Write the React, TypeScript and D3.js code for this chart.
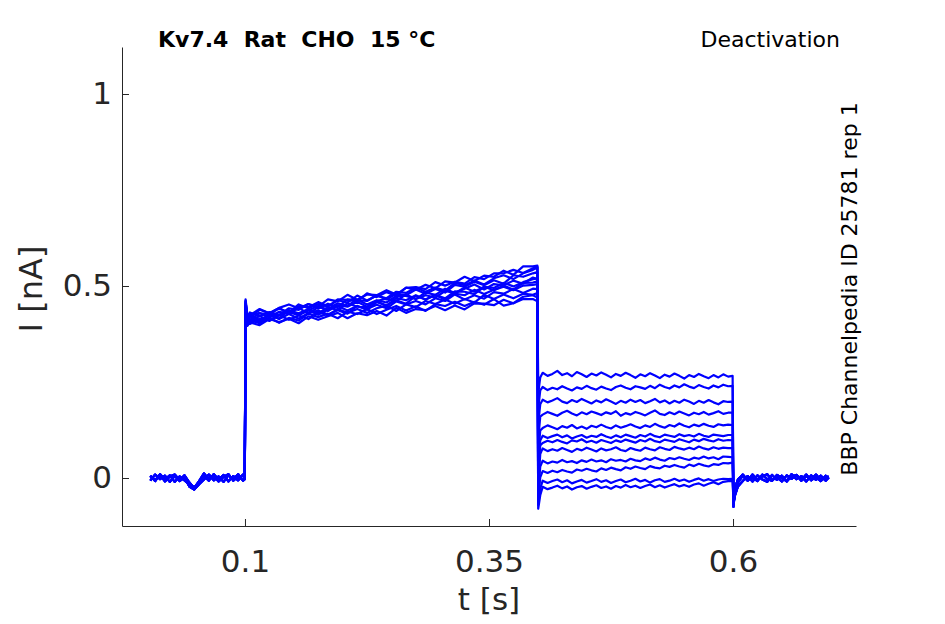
import * as d3 from 'd3';
import React, { useEffect, useRef } from 'react';

const width = 945;
const height = 624;
const margin = { top: 47, right: 89, bottom: 98, left: 122 };

// time grids [s] of each protocol phase
const preT = [0.003, 0.008, 0.013, 0.018, 0.023, 0.028, 0.033, 0.038, 0.043, 0.048, 0.053, 0.058, 0.063, 0.068, 0.073, 0.078, 0.083, 0.088, 0.093, 0.098, 0.0998];
const actT = [0.1006, 0.1025, 0.105, 0.115, 0.125, 0.135, 0.145, 0.155, 0.165, 0.175, 0.185, 0.195, 0.205, 0.215, 0.225, 0.235, 0.245, 0.255, 0.265, 0.275, 0.285, 0.295, 0.305, 0.315, 0.325, 0.335, 0.345, 0.355, 0.365, 0.375, 0.385, 0.395, 0.3996];
const tailT = [0.4004, 0.4025, 0.405, 0.41, 0.415, 0.42, 0.425, 0.43, 0.435, 0.44, 0.445, 0.45, 0.455, 0.46, 0.465, 0.47, 0.475, 0.48, 0.485, 0.49, 0.495, 0.5, 0.505, 0.51, 0.515, 0.52, 0.525, 0.53, 0.535, 0.54, 0.545, 0.55, 0.555, 0.56, 0.565, 0.57, 0.575, 0.58, 0.585, 0.59, 0.595, 0.5996];
const postT = [0.6004, 0.602, 0.605, 0.61, 0.615, 0.62, 0.625, 0.63, 0.635, 0.64, 0.645, 0.65, 0.655, 0.66, 0.665, 0.67, 0.675, 0.68, 0.685, 0.69, 0.695, 0.698];

// holding current [nA], three recorded variants
const preA = [0.006, -0.008, 0.01, -0.004, 0.007, -0.01, 0.004, -0.006, -0.018, -0.024, -0.012, 0.006, -0.007, 0.01, -0.004, 0.008, -0.009, 0.005, -0.006, 0.009, 0.002];
const preB = [-0.007, 0.009, -0.003, 0.006, -0.01, 0.005, -0.008, 0.002, -0.022, -0.03, -0.016, -0.004, 0.009, -0.006, 0.004, -0.01, 0.007, -0.003, 0.01, -0.007, -0.003];
const preC = [0.003, -0.005, 0.008, -0.009, 0.004, 0.009, -0.006, 0.007, -0.012, -0.026, -0.008, 0.012, -0.003, 0.005, -0.009, 0.003, 0.01, -0.007, 0.004, -0.005, 0.004];
const preVariants = [preA, preB, preC];

// activating step, one row per sweep: spike, settle, then the step
const activation = [
  [0.462, 0.41, 0.423, 0.412, 0.424, 0.415, 0.437, 0.429, 0.44, 0.429, 0.444, 0.438, 0.455, 0.446, 0.445, 0.46, 0.448, 0.469, 0.463, 0.476, 0.465, 0.477, 0.468, 0.486, 0.485, 0.479, 0.498, 0.489, 0.501, 0.491, 0.508, 0.509, 0.512],
  [0.45, 0.42, 0.419, 0.438, 0.429, 0.443, 0.429, 0.447, 0.445, 0.458, 0.447, 0.463, 0.457, 0.475, 0.462, 0.475, 0.468, 0.485, 0.482, 0.496, 0.485, 0.496, 0.488, 0.508, 0.502, 0.514, 0.504, 0.52, 0.528, 0.518, 0.533, 0.542, 0.548],
  [0.44, 0.405, 0.414, 0.405, 0.426, 0.414, 0.427, 0.415, 0.43, 0.436, 0.426, 0.437, 0.428, 0.448, 0.44, 0.451, 0.442, 0.46, 0.452, 0.461, 0.452, 0.468, 0.461, 0.478, 0.465, 0.476, 0.467, 0.484, 0.48, 0.492, 0.482, 0.493, 0.492],
  [0.458, 0.418, 0.411, 0.429, 0.427, 0.441, 0.431, 0.452, 0.442, 0.453, 0.446, 0.465, 0.464, 0.46, 0.481, 0.471, 0.484, 0.475, 0.496, 0.49, 0.503, 0.494, 0.512, 0.509, 0.524, 0.513, 0.527, 0.524, 0.54, 0.529, 0.551, 0.551, 0.553],
  [0.43, 0.398, 0.412, 0.403, 0.418, 0.404, 0.417, 0.41, 0.428, 0.419, 0.428, 0.416, 0.433, 0.427, 0.44, 0.427, 0.438, 0.448, 0.436, 0.447, 0.435, 0.453, 0.448, 0.459, 0.448, 0.459, 0.451, 0.466, 0.449, 0.455, 0.472, 0.476, 0.47],
  [0.455, 0.412, 0.421, 0.43, 0.418, 0.433, 0.428, 0.443, 0.428, 0.445, 0.44, 0.455, 0.449, 0.465, 0.452, 0.463, 0.457, 0.474, 0.474, 0.466, 0.483, 0.477, 0.493, 0.482, 0.493, 0.504, 0.491, 0.505, 0.502, 0.514, 0.506, 0.522, 0.518],
  [0.445, 0.406, 0.407, 0.422, 0.409, 0.425, 0.432, 0.424, 0.436, 0.425, 0.438, 0.448, 0.436, 0.448, 0.438, 0.458, 0.45, 0.463, 0.454, 0.474, 0.465, 0.476, 0.465, 0.48, 0.476, 0.49, 0.479, 0.49, 0.498, 0.489, 0.501, 0.503, 0.505],
  [0.46, 0.42, 0.431, 0.421, 0.432, 0.425, 0.442, 0.438, 0.453, 0.441, 0.454, 0.445, 0.465, 0.463, 0.461, 0.476, 0.465, 0.48, 0.476, 0.491, 0.48, 0.492, 0.483, 0.503, 0.498, 0.511, 0.502, 0.515, 0.506, 0.528, 0.524, 0.533, 0.536],
  [0.435, 0.402, 0.401, 0.414, 0.411, 0.424, 0.412, 0.423, 0.414, 0.432, 0.424, 0.44, 0.43, 0.44, 0.43, 0.442, 0.449, 0.435, 0.452, 0.445, 0.461, 0.453, 0.465, 0.454, 0.466, 0.457, 0.477, 0.466, 0.478, 0.468, 0.48, 0.477, 0.482],
  [0.45, 0.41, 0.422, 0.409, 0.426, 0.423, 0.437, 0.426, 0.437, 0.448, 0.435, 0.45, 0.446, 0.459, 0.446, 0.461, 0.467, 0.461, 0.478, 0.466, 0.476, 0.47, 0.487, 0.481, 0.496, 0.485, 0.498, 0.495, 0.508, 0.499, 0.51, 0.518, 0.52],
  [0.425, 0.396, 0.405, 0.398, 0.414, 0.406, 0.415, 0.403, 0.421, 0.412, 0.421, 0.43, 0.416, 0.429, 0.424, 0.435, 0.423, 0.443, 0.43, 0.44, 0.437, 0.448, 0.437, 0.449, 0.439, 0.455, 0.454, 0.45, 0.464, 0.455, 0.466, 0.466, 0.46],
  [0.465, 0.424, 0.424, 0.44, 0.429, 0.443, 0.452, 0.442, 0.453, 0.446, 0.465, 0.46, 0.477, 0.464, 0.478, 0.476, 0.489, 0.478, 0.495, 0.497, 0.492, 0.51, 0.501, 0.511, 0.506, 0.523, 0.518, 0.533, 0.533, 0.542, 0.534, 0.546, 0.55],
];

// deactivation tails, one row per sweep: transient, recovery, then the tail
const tails = [
  [0.22, 0.262, 0.274, 0.266, 0.271, 0.279, 0.268, 0.273, 0.265, 0.276, 0.27, 0.263, 0.272, 0.267, 0.275, 0.269, 0.262, 0.271, 0.266, 0.274, 0.268, 0.261, 0.27, 0.265, 0.273, 0.267, 0.26, 0.269, 0.264, 0.272, 0.266, 0.259, 0.268, 0.263, 0.271, 0.265, 0.26, 0.268, 0.262, 0.27, 0.264, 0.266],
  [0.18, 0.228, 0.237, 0.229, 0.235, 0.231, 0.239, 0.233, 0.228, 0.236, 0.232, 0.24, 0.234, 0.23, 0.238, 0.233, 0.229, 0.237, 0.241, 0.235, 0.231, 0.239, 0.236, 0.232, 0.24, 0.234, 0.243, 0.237, 0.233, 0.241, 0.236, 0.244, 0.238, 0.234, 0.242, 0.237, 0.233, 0.241, 0.236, 0.243, 0.239, 0.24],
  [0.14, 0.192, 0.204, 0.197, 0.202, 0.208, 0.199, 0.195, 0.203, 0.198, 0.206, 0.2, 0.194, 0.202, 0.197, 0.205, 0.199, 0.193, 0.201, 0.196, 0.204, 0.198, 0.203, 0.195, 0.2, 0.206, 0.197, 0.202, 0.194, 0.201, 0.196, 0.204, 0.199, 0.193, 0.201, 0.196, 0.203, 0.197, 0.192, 0.2, 0.198, 0.199],
  [0.1, 0.16, 0.165, 0.172, 0.167, 0.162, 0.17, 0.175, 0.168, 0.163, 0.171, 0.166, 0.173, 0.169, 0.164, 0.171, 0.167, 0.174, 0.162, 0.169, 0.165, 0.172, 0.168, 0.163, 0.17, 0.176, 0.167, 0.164, 0.171, 0.166, 0.173, 0.168, 0.163, 0.17, 0.166, 0.172, 0.165, 0.169, 0.174, 0.167, 0.17, 0.17],
  [0.06, 0.124, 0.13, 0.137, 0.132, 0.127, 0.135, 0.131, 0.138, 0.129, 0.134, 0.128, 0.136, 0.132, 0.139, 0.133, 0.129, 0.137, 0.131, 0.135, 0.14, 0.134, 0.13, 0.137, 0.133, 0.141, 0.135, 0.131, 0.138, 0.134, 0.142, 0.136, 0.132, 0.139, 0.135, 0.141, 0.136, 0.133, 0.14, 0.137, 0.139, 0.138],
  [0.03, 0.098, 0.11, 0.104, 0.109, 0.113, 0.106, 0.111, 0.103, 0.108, 0.112, 0.105, 0.11, 0.107, 0.114, 0.108, 0.104, 0.111, 0.106, 0.113, 0.109, 0.105, 0.112, 0.108, 0.115, 0.109, 0.106, 0.113, 0.11, 0.107, 0.114, 0.109, 0.112, 0.108, 0.115, 0.11, 0.107, 0.113, 0.111, 0.109, 0.112, 0.112],
  [0.01, 0.085, 0.091, 0.097, 0.093, 0.099, 0.094, 0.09, 0.098, 0.095, 0.101, 0.093, 0.097, 0.092, 0.099, 0.095, 0.091, 0.098, 0.094, 0.1, 0.096, 0.092, 0.099, 0.095, 0.102, 0.096, 0.093, 0.1, 0.097, 0.094, 0.101, 0.097, 0.093, 0.1, 0.096, 0.102, 0.098, 0.095, 0.101, 0.097, 0.099, 0.098],
  [-0.02, 0.062, 0.077, 0.07, 0.075, 0.071, 0.078, 0.073, 0.068, 0.076, 0.072, 0.079, 0.074, 0.069, 0.077, 0.072, 0.075, 0.08, 0.073, 0.07, 0.078, 0.074, 0.071, 0.079, 0.075, 0.072, 0.08, 0.076, 0.073, 0.081, 0.077, 0.074, 0.079, 0.075, 0.082, 0.077, 0.074, 0.08, 0.076, 0.079, 0.078, 0.078],
  [-0.04, 0.03, 0.045, 0.038, 0.043, 0.04, 0.047, 0.041, 0.044, 0.039, 0.046, 0.042, 0.048, 0.043, 0.046, 0.041, 0.049, 0.045, 0.047, 0.043, 0.05, 0.046, 0.044, 0.051, 0.047, 0.053, 0.048, 0.045, 0.052, 0.049, 0.054, 0.05, 0.047, 0.053, 0.05, 0.056, 0.051, 0.054, 0.049, 0.056, 0.055, 0.054],
  [-0.06, 0.002, 0.018, 0.013, 0.019, 0.015, 0.021, 0.017, 0.014, 0.022, 0.019, 0.024, 0.02, 0.017, 0.025, 0.021, 0.027, 0.023, 0.02, 0.028, 0.024, 0.03, 0.026, 0.023, 0.031, 0.027, 0.025, 0.032, 0.029, 0.034, 0.03, 0.027, 0.035, 0.031, 0.037, 0.033, 0.03, 0.036, 0.034, 0.039, 0.038, 0.04],
  [-0.07, -0.028, -0.007, -0.013, -0.008, -0.004, -0.011, -0.006, -0.014, -0.009, -0.005, -0.012, -0.008, -0.003, -0.01, -0.006, -0.013, -0.008, -0.004, -0.011, -0.007, -0.002, -0.009, -0.005, -0.012, -0.006, -0.003, -0.01, -0.007, -0.002, -0.008, -0.004, -0.01, -0.005, -0.001, -0.007, -0.003, -0.008, -0.004, -0.002, -0.003, -0.002],
  [-0.08, -0.045, -0.023, -0.029, -0.025, -0.02, -0.027, -0.022, -0.03, -0.024, -0.021, -0.028, -0.023, -0.019, -0.026, -0.022, -0.028, -0.021, -0.025, -0.018, -0.024, -0.02, -0.026, -0.021, -0.017, -0.024, -0.019, -0.025, -0.02, -0.016, -0.022, -0.018, -0.023, -0.017, -0.014, -0.02, -0.015, -0.011, -0.016, -0.01, -0.008, -0.008],
];

// back at holding potential, three variants
const postA = [-0.075, -0.035, -0.012, 0.006, -0.007, 0.009, -0.005, 0.004, 0.01, -0.006, 0.003, -0.009, 0.007, -0.002, 0.008, -0.007, 0.005, -0.004, 0.009, -0.006, 0.002, 0.004];
const postB = [-0.065, -0.045, -0.022, -0.008, 0.005, -0.009, 0.007, -0.004, -0.01, 0.008, -0.005, 0.006, -0.008, 0.01, -0.003, 0.005, -0.009, 0.007, -0.005, 0.006, -0.007, 0.001];
const postC = [-0.05, -0.025, -0.004, 0.009, -0.006, 0.003, -0.008, 0.009, -0.003, -0.007, 0.008, 0.001, -0.009, 0.005, 0.007, -0.005, 0.009, -0.006, 0.003, -0.008, 0.006, -0.002];
const postVariants = [postA, postB, postC];

const xTicks = [0.1, 0.35, 0.6];
const yTicks = [0, 0.5, 1];

const font = "'DejaVu Sans', sans-serif";
const axisColor = '#262626';

const pair = (T: number[], V: number[]) =>
  T.map((t, i) => [t, V[i]] as [number, number]).filter((p) => p[1] !== undefined);

const App: React.FC = () => {
  const svgRef = useRef<SVGSVGElement>(null);
  useEffect(() => {
    if (!svgRef.current) return;
    const svg = d3.select(svgRef.current);
    svg.selectAll('*').remove();

    const xScale = d3
      .scaleLinear()
      .domain([-0.026, 0.726])
      .range([margin.left, width - margin.right]);
    const yScale = d3
      .scaleLinear()
      .domain([-0.125, 1.1224])
      .range([height - margin.bottom, margin.top]);

    const line = d3
      .line<[number, number]>()
      .x((d) => xScale(d[0]))
      .y((d) => yScale(d[1]));

    const sweeps = activation.map((act, k) => [
      ...pair(preT, preVariants[k % 3]),
      ...pair(actT, act),
      ...pair(tailT, tails[k]),
      ...pair(postT, postVariants[k % 3]),
    ]);

    svg
      .append('g')
      .selectAll('path')
      .data(sweeps)
      .enter()
      .append('path')
      .attr('d', (d) => line(d))
      .attr('fill', 'none')
      .attr('stroke', '#0000ff')
      .attr('stroke-width', 2.2)
      .attr('stroke-linejoin', 'round');

    const xAxis = svg
      .append('g')
      .attr('transform', `translate(0,${height - margin.bottom})`)
      .call(
        d3
          .axisBottom(xScale)
          .tickValues(xTicks)
          .tickFormat((d) => String(d))
          .tickSize(-7)
          .tickSizeOuter(0)
          .tickPadding(24)
      );
    const yAxis = svg
      .append('g')
      .attr('transform', `translate(${margin.left},0)`)
      .call(
        d3
          .axisLeft(yScale)
          .tickValues(yTicks)
          .tickFormat((d) => String(d))
          .tickSize(-7)
          .tickSizeOuter(0)
          .tickPadding(10)
      );
    [xAxis, yAxis].forEach((g) => {
      g.attr('font-family', font).attr('font-size', 31);
      g.select('.domain').attr('stroke', axisColor);
      g.selectAll('line').attr('stroke', axisColor);
      g.selectAll('text').attr('fill', axisColor);
    });

    svg
      .append('text')
      .attr('x', (margin.left + width - margin.right) / 2)
      .attr('y', 610)
      .attr('text-anchor', 'middle')
      .attr('font-family', font)
      .attr('font-size', 31)
      .attr('fill', axisColor)
      .text('t [s]');
    svg
      .append('text')
      .attr('transform', `translate(42,289) rotate(-90)`)
      .attr('text-anchor', 'middle')
      .attr('font-family', font)
      .attr('font-size', 32)
      .attr('fill', axisColor)
      .text('I [nA]');

    svg
      .append('text')
      .attr('x', 158)
      .attr('y', 47)
      .attr('font-family', font)
      .attr('font-size', 22)
      .attr('font-weight', 'bold')
      .style('white-space', 'pre')
      .text('Kv7.4  Rat  CHO  15 °C');
    svg
      .append('text')
      .attr('x', 840)
      .attr('y', 47)
      .attr('text-anchor', 'end')
      .attr('font-family', font)
      .attr('font-size', 22)
      .text('Deactivation');
    svg
      .append('text')
      .attr('transform', `translate(857,289) rotate(-90)`)
      .attr('text-anchor', 'middle')
      .attr('font-family', font)
      .attr('font-size', 22)
      .text('BBP Channelpedia ID 25781 rep 1');
  }, []);

  return (
    <svg
      ref={svgRef}
      width={width}
      height={height}
      style={{ position: 'absolute', left: 0, top: 0, background: '#fff' }}
    />
  );
};

export default App;
